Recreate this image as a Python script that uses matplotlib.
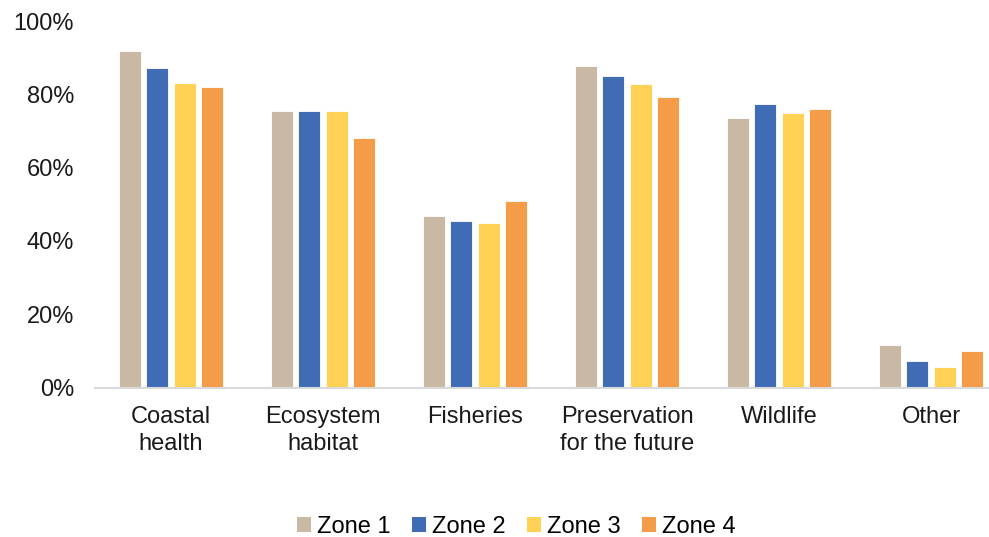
import matplotlib
matplotlib.use("Agg")
import matplotlib.pyplot as plt
import numpy as np
from matplotlib.patches import Patch

categories = ["Coastal\nhealth", "Ecosystem\nhabitat", "Fisheries",
              "Preservation\nfor the future", "Wildlife", "Other"]
zone1 = [91.8, 75.4, 46.9, 87.6, 73.4, 11.5]
zone2 = [87.1, 75.4, 45.4, 85.0, 77.4, 7.2]
zone3 = [83.2, 75.4, 45.0, 82.7, 74.9, 5.7]
zone4 = [82.0, 68.2, 50.8, 79.3, 76.1, 10.0]
series = ["Zone 1", "Zone 2", "Zone 3", "Zone 4"]
colors = ["#C9B8A3", "#3F6CB4", "#FFD154", "#F49C48"]
yticks = [0, 20, 40, 60, 80, 100]

plt.rcParams['font.family'] = ['Liberation Sans', 'DejaVu Sans']

W, H = 989, 537
fs = 17
fig = plt.figure(figsize=(W / 100, H / 100), dpi=100)
left, right = 95, 1007
top, bottom = 21, 387.5
ax = fig.add_axes([left / W, 1 - bottom / H, (right - left) / W, (bottom - top) / H])

x = np.arange(len(categories))
pitch = 0.181
bw = 0.145
for i, (vals, c) in enumerate(zip([zone1, zone2, zone3, zone4], colors)):
    ax.bar(x + (i - 1.5) * pitch, np.array(vals) / 100, width=bw, color=c,
           edgecolor='white', linewidth=0.6, label=series[i])

ax.set_xlim(-0.5, len(categories) - 0.5)
ax.set_ylim(0, 1.0)
ax.set_yticks([v / 100 for v in yticks])
ax.set_yticklabels([f"{v}%" for v in yticks], fontsize=fs, color='#1a1a1a')
ax.set_xticks(x)
ax.set_xticklabels(categories, fontsize=fs, color='#1a1a1a', linespacing=1.3)
ax.tick_params(axis='both', length=0)
ax.tick_params(axis='x', pad=13.5)
ax.tick_params(axis='y', pad=15)
for s in ['top', 'right', 'left']:
    ax.spines[s].set_visible(False)
ax.spines['bottom'].set_color('#d9d9d9')
ax.spines['bottom'].set_linewidth(1.5)

handles = [Patch(facecolor=c, edgecolor='none') for c in colors]
fig.legend(handles, series, loc='center', bbox_to_anchor=(516 / W, 1 - 527 / H),
           ncol=4, frameon=False, fontsize=fs, handlelength=0.6, handleheight=0.6,
           handletextpad=0.25, columnspacing=0.9, borderpad=0.2)

fig.savefig("out.png", dpi=100)
